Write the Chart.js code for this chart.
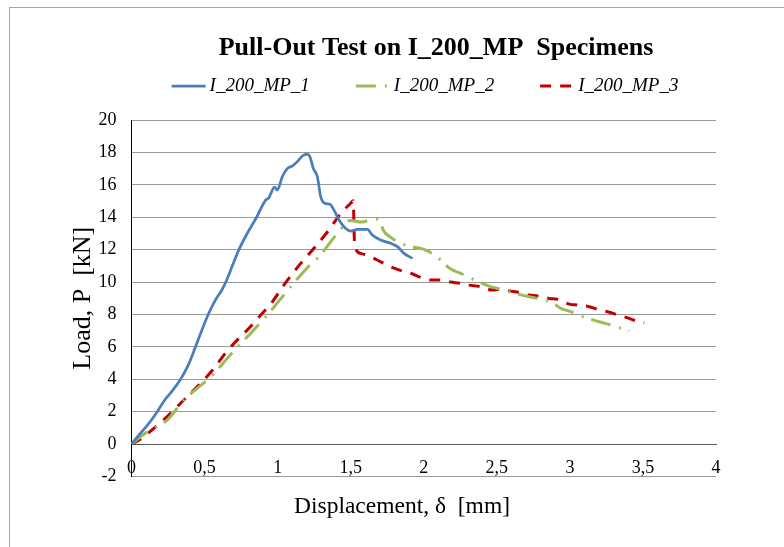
<!DOCTYPE html>
<html>
<head>
<meta charset="utf-8">
<title>Pull-Out Test on I_200_MP Specimens</title>
<script src="https://cdn.jsdelivr.net/npm/chart.js@4.4.1/dist/chart.umd.min.js"></script>
<style>
	html, body { margin: 0; padding: 0; background: #fff; }
	#wrap { width: 784px; height: 547px; }
</style>
</head>
<body>
<div id="wrap"><canvas id="pullOutChart" width="784" height="547"></canvas></div>
<script>
	// Specimen I_200_MP_1 : displacement [mm] / load [kN]
	var disp1 = [0, 0.05, 0.119, 0.176, 0.23, 0.28, 0.336, 0.39, 0.438, 0.48, 0.525, 0.575, 0.621, 0.65, 0.69, 0.735,
		0.792, 0.856, 0.918, 0.94, 0.979, 0.998, 1.032, 1.066, 1.1, 1.135, 1.169, 1.203, 1.221, 1.245, 1.272, 1.295,
		1.322, 1.358, 1.386, 1.42, 1.466, 1.5, 1.546, 1.614, 1.648, 1.705, 1.774, 1.82, 1.865, 1.923];
	var load1 = [0, 0.55, 1.28, 2.0, 2.75, 3.3, 4.0, 4.9, 6.0, 7.0, 8.0, 8.9, 9.55, 10.1, 11.0, 12.0,
		13.0, 14.0, 15.06, 15.2, 15.85, 15.68, 16.5, 17.0, 17.16, 17.43, 17.78, 17.9, 17.73, 17.0, 16.5, 15.27,
		14.86, 14.8, 14.44, 13.83, 13.3, 13.15, 13.25, 13.25, 12.9, 12.59, 12.39, 12.18, 11.77, 11.46];

	// Specimen I_200_MP_2
	var disp2 = [0, 0.107, 0.244, 0.358, 0.45, 0.518, 0.587, 0.655, 0.747, 0.815, 0.929, 0.986, 1.089, 1.169, 1.226,
		1.283, 1.329, 1.409, 1.5, 1.568, 1.637, 1.683, 1.705, 1.723, 1.774, 1.842, 1.911, 1.979, 2.025, 2.048, 2.082,
		2.128, 2.185, 2.253, 2.322, 2.39, 2.447, 2.527, 2.642, 2.721, 2.806, 2.882, 2.938, 3.007, 3.075, 3.144, 3.2,
		3.281, 3.331, 3.406];
	var load2 = [0, 0.76, 1.48, 2.72, 3.44, 3.95, 4.57, 5.29, 6.2, 6.83, 7.96, 8.58, 9.71, 10.54, 11.1,
		11.56, 12.08, 13.0, 13.8, 13.7, 13.83, 13.87, 13.66, 13.2, 12.76, 12.4, 12.18, 12.08, 11.93, 11.81, 11.67,
		11.22, 10.8, 10.54, 10.23, 9.96, 9.75, 9.55, 9.26, 9.09, 8.93, 8.72, 8.38, 8.17, 7.9, 7.7, 7.55,
		7.35, 7.2, 6.99];

	// Specimen I_200_MP_3
	var disp3 = [0, 0.06, 0.153, 0.244, 0.358, 0.473, 0.564, 0.632, 0.7, 0.792, 0.884, 0.964, 1.043, 1.158, 1.249,
		1.351, 1.432, 1.5, 1.518, 1.523, 1.527, 1.568, 1.625, 1.705, 1.774, 1.854, 1.911, 1.979, 2.048, 2.116, 2.185,
		2.253, 2.31, 2.39, 2.436, 2.482, 2.516, 2.596, 2.653, 2.721, 2.779, 2.858, 2.916, 2.995, 3.053, 3.132, 3.19,
		3.258, 3.331, 3.384, 3.452, 3.509];
	var load3 = [0, 0.3, 0.97, 1.69, 2.72, 3.75, 4.67, 5.49, 6.2, 7.04, 7.96, 8.78, 9.81, 11.15, 12.08,
		13.21, 14.24, 14.86, 15.02, 13.21, 12.28, 11.77, 11.6, 11.25, 10.94, 10.68, 10.54, 10.29, 10.12, 10.12, 10.0,
		9.92, 9.81, 9.71, 9.55, 9.51, 9.55, 9.44, 9.36, 9.2, 9.14, 8.99, 8.93, 8.64, 8.58, 8.48, 8.31,
		8.17, 7.96, 7.82, 7.61, 7.49];

	var seriesNames = ['I_200_MP_1', 'I_200_MP_2', 'I_200_MP_3'];
	var xTickValues = [0, 0.5, 1, 1.5, 2, 2.5, 3, 3.5, 4];
	var yTickValues = [-2, 0, 2, 4, 6, 8, 10, 12, 14, 16, 18, 20];
	var chartTitle = 'Pull-Out Test on I_200_MP  Specimens';
	var xTitle = 'Displacement, \u03b4  [mm]';
	var yTitle = 'Load, P  [kN]';

	var serif = '"Liberation Serif", "Times New Roman", serif';
	Chart.defaults.font.family = serif;
	Chart.defaults.color = '#000';

	function toPoints(xs, ys) {
		return xs.map(function (x, i) { return { x: x, y: ys[i] }; });
	}

	function fixedTicks(values) {
		return function (scale) {
			scale.ticks = values.map(function (v) { return { value: v }; });
		};
	}

	// frame, title, legend row and x axis caption
	var decorPlugin = {
		id: 'decor',
		afterDraw: function (chart) {
			var ctx = chart.ctx;
			ctx.save();
			ctx.strokeStyle = '#a6a6a6';
			ctx.lineWidth = 1;
			ctx.strokeRect(9.5, 7.5, 800, 600);

			ctx.fillStyle = '#000';
			ctx.textBaseline = 'middle';
			ctx.textAlign = 'center';
			ctx.font = 'bold 26px ' + serif;
			ctx.fillText(chartTitle, 436, 48);

			ctx.font = '23.5px ' + serif;
			ctx.fillText(xTitle, 402, 507);

			// legend: sample line + italic name
			ctx.font = 'italic 19px ' + serif;
			ctx.textAlign = 'left';
			var lineLen = 34, gapText = 4, gapItem = 46;
			var sets = chart.data.datasets;
			var total = 0;
			sets.forEach(function (ds, i) {
				total += lineLen + gapText + ctx.measureText(ds.label).width + (i < sets.length - 1 ? gapItem : 0);
			});
			var x = 425 - total / 2, y = 86;
			sets.forEach(function (ds) {
				ctx.save();
				ctx.strokeStyle = ds.borderColor;
				ctx.lineWidth = ds.borderWidth;
				ctx.setLineDash(ds.borderDash || []);
				ctx.beginPath();
				ctx.moveTo(x, y);
				ctx.lineTo(x + lineLen, y);
				ctx.stroke();
				ctx.restore();
				x += lineLen + gapText;
				ctx.fillText(ds.label, x, y);
				x += ctx.measureText(ds.label).width + gapItem;
			});
			ctx.restore();
		}
	};

	new Chart(document.getElementById('pullOutChart'), {
		type: 'line',
		data: {
			datasets: [{
				label: seriesNames[0],
				data: toPoints(disp1, load1),
				borderColor: '#4A7EBB',
				borderWidth: 2.75
			}, {
				label: seriesNames[1],
				data: toPoints(disp2, load2),
				borderColor: '#9BBB59',
				borderWidth: 3,
				borderDash: [20, 9, 2, 8]
			}, {
				label: seriesNames[2],
				data: toPoints(disp3, load3),
				borderColor: '#C00000',
				borderWidth: 3,
				borderDash: [11, 9]
			}]
		},
		options: {
			responsive: false,
			animation: false,
			elements: {
				point: { radius: 0 },
				line: { fill: false, cubicInterpolationMode: 'monotone', borderCapStyle: 'butt' }
			},
			layout: { padding: { left: 68, right: 68, top: 120, bottom: 70.5 } },
			plugins: {
				legend: { display: false },
				title: { display: false },
				tooltip: { enabled: false }
			},
			scales: {
				x: {
					type: 'linear',
					position: { y: 0 },
					min: 0,
					max: 4,
					afterBuildTicks: fixedTicks(xTickValues),
					grid: { display: false, drawTicks: false },
					border: { display: true, color: '#595959', width: 1 },
					ticks: {
						padding: 13,
						autoSkip: false,
						maxRotation: 0,
						font: { size: 18 },
						callback: function (v) { return String(v).replace('.', ','); }
					}
				},
				y: {
					type: 'linear',
					min: -2,
					max: 20,
					afterBuildTicks: fixedTicks(yTickValues),
					afterFit: function (scale) { scale.width = 63.5; },
					grid: {
						drawTicks: false,
						color: function (c) { return c.tick && c.tick.value === 0 ? '#595959' : '#9a9a9a'; }
					},
					border: { color: '#000', width: 1 },
					ticks: { padding: 15, font: { size: 18 } },
					title: {
						display: true,
						text: yTitle,
						font: { size: 26 },
						padding: { top: 0, bottom: 0 }
					}
				}
			}
		},
		plugins: [decorPlugin]
	});
</script>
</body>
</html>
